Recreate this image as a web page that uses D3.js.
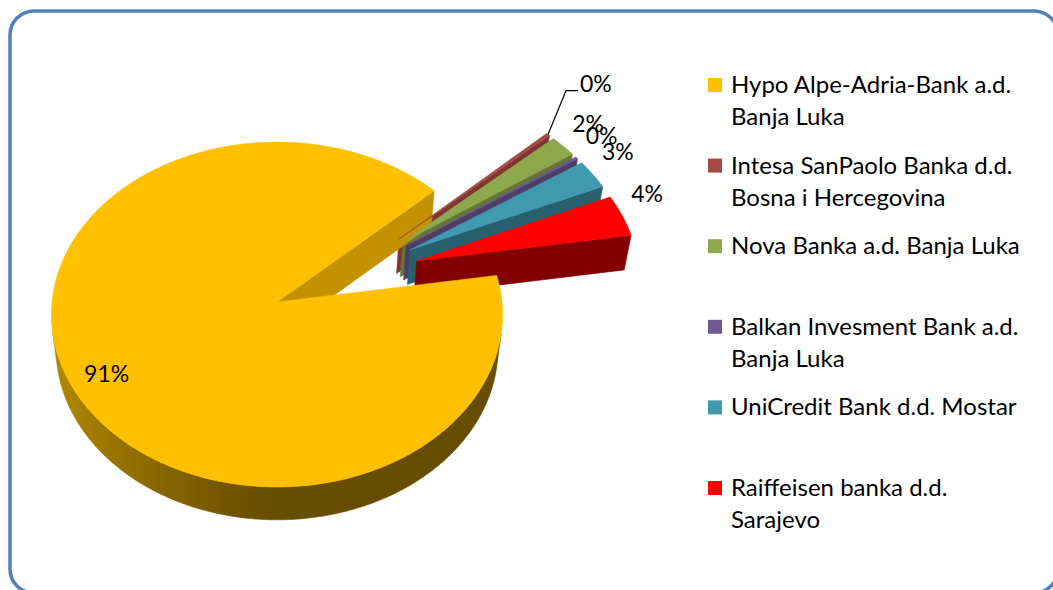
<!DOCTYPE html>
<html>
<head>
<meta charset="utf-8">
<script src="https://cdn.jsdelivr.net/npm/d3@7"></script>
<style>
    html, body { margin: 0; padding: 0; background: #fff; }
    svg { display: block; font-family: Lato, "Open Sans", sans-serif; }
</style>
</head>
<body>
<svg id="vis_svg"></svg>
<script>
// Data
const categories = [
    'Hypo Alpe-Adria-Bank a.d. Banja Luka',
    'Intesa SanPaolo Banka d.d. Bosna i Hercegovina',
    'Nova Banka a.d. Banja Luka',
    'Balkan Invesment Bank a.d. Banja Luka',
    'UniCredit Bank d.d. Mostar',
    'Raiffeisen banka d.d. Sarajevo'
];
const shares = [90.6, 0.3, 2.1, 0.2, 2.8, 4.0];
const labels = ['91%', '0%', '2%', '0%', '3%', '4%'];
const colors = ['#FFC000', '#A84844', '#8EA84E', '#6E5892', '#4199AE', '#FF0000'];

let config = {
    'svg': { 'width': 1053, 'height': 590 },
    'pie': {},
    'legend': {}
};

config.pie.cx = 277;            // screen position of the big slice's centre
config.pie.cy = 302;
config.pie.focal = 2002;        // perspective projection
config.pie.dist = 8.9;
config.pie.tilt = 49.7 * Math.PI / 180;
config.pie.depth = 0.24;        // slice thickness (pie radius = 1)
config.pie.explode = 0.34;
config.pie.firstAngle = 81;     // degrees, clockwise from 12 o'clock

config.legend.x = 708;
config.legend.y = 78;
config.legend.step = 80.6;
config.legend.box = 14;
config.legend.textX = 731;
config.legend.lineHeight = 32;
config.legend.maxWidth = 300;

const svg = d3.select('#vis_svg')
    .attr('width', config.svg.width)
    .attr('height', config.svg.height);
const defs = svg.append('defs');

// chart border
svg.append('rect')
    .attr('x', 10).attr('y', 11)
    .attr('width', 1048).attr('height', 582)
    .attr('rx', 24).attr('ry', 24)
    .style('fill', '#fff')
    .style('stroke', '#4F81BD')
    .style('stroke-width', 3.5);

/**
 * Project a point of the pie (u right, v towards viewer, h up) to the screen
 */
function project(u, v, h) {
    const p = config.pie;
    const s = Math.sin(p.tilt), c = Math.cos(p.tilt);
    const z = p.dist - v * c - h * s;
    return [p.cx + p.focal * u / z, p.cy + p.focal * (v * s - h * c) / z, z];
}

function shade(color, f) {
    return d3.interpolateRgb('#000', color)(Math.max(0, Math.min(1, f)));
}

function visDraw() {
    const p = config.pie;
    const a0 = p.firstAngle * Math.PI / 180;
    const arcs = d3.pie().sort(null).startAngle(a0).endAngle(a0 + 2 * Math.PI)(shares);

    const cam = [0, p.dist * Math.cos(p.tilt), p.dist * Math.sin(p.tilt)];
    const bis = d => (d.startAngle + d.endAngle) / 2 - Math.PI / 2;
    // true pie centre: every slice is exploded away from it
    const b0 = bis(arcs[0]);
    const centre = [-p.explode * Math.cos(b0), -p.explode * Math.sin(b0)];

    let sides = [], tops = [], slices = [];
    const H = -p.depth;
    const visible = (nx, ny, px, py) => nx * (cam[0] - px) + ny * (cam[1] - py) > 0;

    arcs.forEach((d, i) => {
        const t0 = d.startAngle - Math.PI / 2, t1 = d.endAngle - Math.PI / 2, b = bis(d);
        const ox = centre[0] + p.explode * Math.cos(b);
        const oy = centre[1] + p.explode * Math.sin(b);
        slices.push({ i: i, ox: ox, oy: oy, b: b });
        const n = Math.max(2, Math.ceil((t1 - t0) / (Math.PI / 360)));
        const rim = d3.range(n + 1).map(k => t0 + (t1 - t0) * k / n);
        const at = (a, h) => project(ox + Math.cos(a), oy + Math.sin(a), h);

        tops.push({ pts: [project(ox, oy, 0)].concat(rim.map(a => at(a, 0))), color: colors[i] });

        // outer wall: one polygon over the visible run, shaded by a gradient
        const run = rim.filter(a => visible(Math.cos(a), Math.sin(a), ox + Math.cos(a), oy + Math.sin(a)));
        if (run.length > 1) {
            const topEdge = run.map(a => at(a, 0));
            const botEdge = run.map(a => at(a, H)).reverse();
            const pts = topEdge.concat(botEdge);
            const xs = d3.extent(topEdge, e => e[0]);
            const gid = 'wall' + i;
            const grad = defs.append('linearGradient')
                .attr('id', gid)
                .attr('gradientUnits', 'userSpaceOnUse')
                .attr('x1', xs[0]).attr('x2', xs[1])
                .attr('y1', 0).attr('y2', 0);
            const stops = run.map((a, k) => ({
                off: (topEdge[k][0] - xs[0]) / (xs[1] - xs[0]),
                col: shade(colors[i], 0.40 + 0.32 * Math.pow(Math.max(0, -Math.cos(a)), 1.2))
            })).sort((x, y) => x.off - y.off);
            grad.selectAll('stop')
                .data(stops.filter((s, k) => k % 4 === 0 || k === stops.length - 1))
                .join('stop')
                .attr('offset', s => s.off)
                .attr('stop-color', s => s.col);
            sides.push({ pts: pts, z: d3.mean(pts, e => e[2]), color: 'url(#' + gid + ')', edge: shade(colors[i], 0.5) });
        }

        // the two cut faces
        [[t0, Math.sin(t0), -Math.cos(t0)], [t1, -Math.sin(t1), Math.cos(t1)]].forEach(([a, nx, ny]) => {
            const px = ox + 0.5 * Math.cos(a), py = oy + 0.5 * Math.sin(a);
            if (!visible(nx, ny, px, py)) return;
            const q = [project(ox, oy, 0), at(a, 0), at(a, H), project(ox, oy, H)];
            const c = shade(colors[i], 0.44 + 0.47 * nx);
            sides.push({ pts: q, z: d3.mean(q, e => e[2]), color: c, edge: c });
        });
    });

    sides.sort((a, b) => b.z - a.z);
    const line = d3.line().x(e => e[0]).y(e => e[1]);

    const pieG = svg.append('g').attr('id', 'pie');
    pieG.selectAll('path.side')
        .data(sides)
        .join('path')
        .attr('class', 'side')
        .attr('d', d => line(d.pts) + 'Z')
        .style('fill', d => d.color)
        .style('stroke', d => d.color)
        .style('stroke-width', 0.6)
        .style('stroke-linejoin', 'round');

    pieG.selectAll('path.top')
        .data(tops)
        .join('path')
        .attr('class', 'top')
        .attr('d', d => line(d.pts) + 'Z')
        .style('fill', d => d.color)
        .style('stroke', d => d.color)
        .style('stroke-width', 0.6)
        .style('stroke-linejoin', 'round');

    // data labels
    const labelG = svg.append('g').attr('id', 'labels')
        .style('font-size', '23px')
        .style('fill', '#000');

    slices.forEach(s => {
        if (s.i === 0) {
            const q = project(s.ox + 0.82 * Math.cos(s.b), s.oy + 0.82 * Math.sin(s.b), 0);
            labelG.append('text')
                .attr('x', q[0]).attr('y', q[1] + 17)
                .attr('text-anchor', 'middle')
                .text(labels[s.i]);
            return;
        }
        const q = project(s.ox + Math.cos(s.b), s.oy + Math.sin(s.b), 0);
        if (s.i === 1) {
            // first small label is pushed up with a leader line
            const pts = [[q[0], q[1]], [q[0] + 18, q[1] - 44], [q[0] + 30, q[1] - 44]];
            labelG.append('path')
                .attr('d', line(pts))
                .style('fill', 'none')
                .style('stroke', '#000')
                .style('stroke-width', 1.2);
            labelG.append('text')
                .attr('x', q[0] + 32).attr('y', q[1] - 43)
                .text(labels[s.i]);
        } else {
            labelG.append('text')
                .attr('x', q[0] + 25).attr('y', q[1] - 14)
                .attr('text-anchor', 'middle')
                .text(labels[s.i]);
        }
    });

    // legend
    const L = config.legend;
    const legG = svg.append('g').attr('id', 'legend')
        .style('font-size', '24px')
        .style('fill', '#000');

    categories.forEach((name, i) => {
        const y = L.y + i * L.step;
        legG.append('rect')
            .attr('x', L.x).attr('y', y)
            .attr('width', L.box).attr('height', L.box)
            .style('fill', colors[i]);
        const text = legG.append('text').attr('x', L.textX).attr('y', y + L.box + 1);
        // word wrap
        let lineWords = [];
        let tspan = text.append('tspan').attr('x', L.textX).attr('dy', 0);
        name.split(' ').forEach(w => {
            lineWords.push(w);
            tspan.text(lineWords.join(' '));
            if (tspan.node().getComputedTextLength() > L.maxWidth && lineWords.length > 1) {
                lineWords.pop();
                tspan.text(lineWords.join(' '));
                lineWords = [w];
                tspan = text.append('tspan').attr('x', L.textX).attr('dy', L.lineHeight).text(w);
            }
        });
    });
}

visDraw();
</script>
</body>
</html>
